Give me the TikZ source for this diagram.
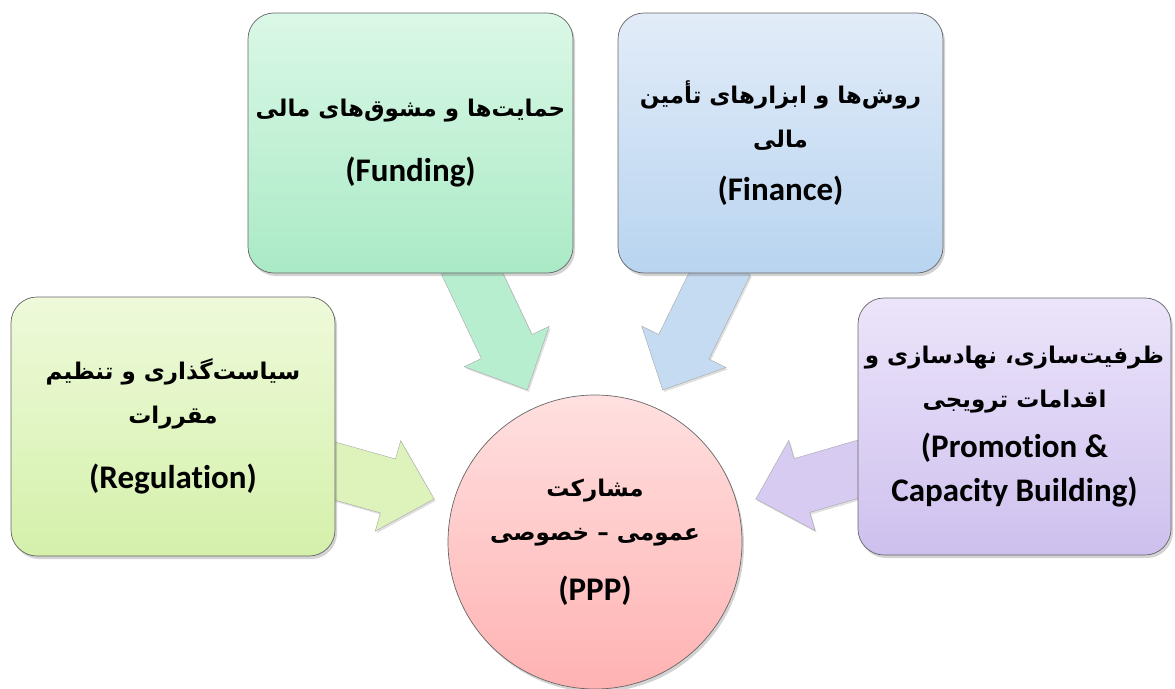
\documentclass[tikz,border=0pt]{standalone}
\usepackage{fontspec}
\setmainfont{Carlito}[Ligatures=NoCommon]
\newfontfamily\fa[Script=Arabic]{DejaVu Sans}
\TeXXeTstate=1
\usetikzlibrary{shadows,positioning,calc,backgrounds}

\definecolor{regtop}{RGB}{238,250,218}
\definecolor{regbot}{RGB}{212,240,170}
\definecolor{fundtop}{RGB}{218,248,230}
\definecolor{fundbot}{RGB}{170,234,198}
\definecolor{fintop}{RGB}{226,236,248}
\definecolor{finbot}{RGB}{184,212,240}
\definecolor{promtop}{RGB}{236,228,250}
\definecolor{prombot}{RGB}{206,192,238}
\definecolor{ppptop}{RGB}{255,224,224}
\definecolor{pppbot}{RGB}{255,178,178}

% persian line
\newcommand{\faline}[1]{{\fa\bfseries\fontsize{23}{44}\selectfont\beginR #1\endR}}
% block arrow from #2 to #3
\newcommand{\fatarrow}[3][]{%
  \coordinate (fa-h) at ($(#3)!48pt!(#2)$);
  \path[#1] ($(#2)!28pt!90:(#3)$) -- ($(fa-h)!28pt!90:(#3)$)
    -- ($(fa-h)!47pt!90:(#3)$) -- (#3) -- ($(fa-h)!47pt!-90:(#3)$)
    -- ($(fa-h)!28pt!-90:(#3)$) -- ($(#2)!28pt!-90:(#3)$) -- cycle;}

\begin{document}
\begin{tikzpicture}
[x=1pt,y=-1pt,
shade/.style={draw=black!60,line width=.7pt,
  drop shadow={opacity=.35,shadow xshift=2pt,shadow yshift=-3pt}},
box/.style={shade,shape=rectangle,rounded corners=26pt,align=center,
  minimum width=324pt,minimum height=259pt,
  font=\bfseries\fontsize{33}{44}\selectfont},
hub/.style={shade,shape=circle,minimum size=294pt,align=center,
  font=\bfseries\fontsize{33}{44}\selectfont},
fat/.style={draw=black!35,line width=.4pt,
  drop shadow={opacity=.25,shadow xshift=1.5pt,shadow yshift=-2pt}}]
\useasboundingbox (0,0) rectangle (1175,688);
%%
\node (ppp) [hub,top color=ppptop,bottom color=pppbot] at (595,542)
  {\faline{مشارکت}\\ \faline{عمومی – خصوصی}\\[16pt] (PPP)};
\node (reg) [box,top color=regtop,bottom color=regbot] at (173,426.5)
  {\faline{سیاست‌گذاری و تنظیم}\\ \faline{مقررات}\\[21pt] (Regulation)};
\node (fund) [box,top color=fundtop,bottom color=fundbot,minimum width=325pt,minimum height=260pt] at (410.5,143)
  {\faline{حمایت‌ها و مشوق‌های مالی}\\[21pt] (Funding)};
\node (fin) [box,top color=fintop,bottom color=finbot,minimum width=325pt,minimum height=260pt] at (780.5,143)
  {\faline{روش‌ها و ابزارهای تأمین}\\ \faline{مالی}\\[9pt] (Finance)};
\node (prom) [box,top color=promtop,bottom color=prombot,minimum width=313pt,minimum height=257pt] at (1014.5,426.5)
  {\faline{ظرفیت‌سازی، نهادسازی و}\\ \faline{اقدامات ترویجی}\\[6pt] (Promotion \&\\ Capacity Building)};
%%
\coordinate (reg-s) at ($(reg.east)+(-11.6,41.4)$);
\coordinate (fund-s) at ($(fund.south)+(56.3,-10.8)$);
\coordinate (fin-s) at ($(fin.south)+(-55.3,-10.8)$);
\coordinate (prom-s) at ($(prom.west)+(11.6,39.4)$);
\coordinate (reg-t) at ($(ppp.center)!1.13!(ppp.165)$);
\coordinate (fund-t) at ($(ppp.center)!1.13!(ppp.114)$);
\coordinate (fin-t) at ($(ppp.center)!1.13!(ppp.66)$);
\coordinate (prom-t) at ($(ppp.center)!1.13!(ppp.15)$);
\begin{scope}[on background layer]
\fatarrow[fat,fill=regbot!65!regtop]{reg-s}{reg-t}
\fatarrow[fat,fill=fundbot!70!fundtop]{fund-s}{fund-t}
\fatarrow[fat,fill=finbot!70!fintop]{fin-s}{fin-t}
\fatarrow[fat,fill=prombot!70!promtop]{prom-s}{prom-t}
\end{scope}
\end{tikzpicture}
\end{document}
